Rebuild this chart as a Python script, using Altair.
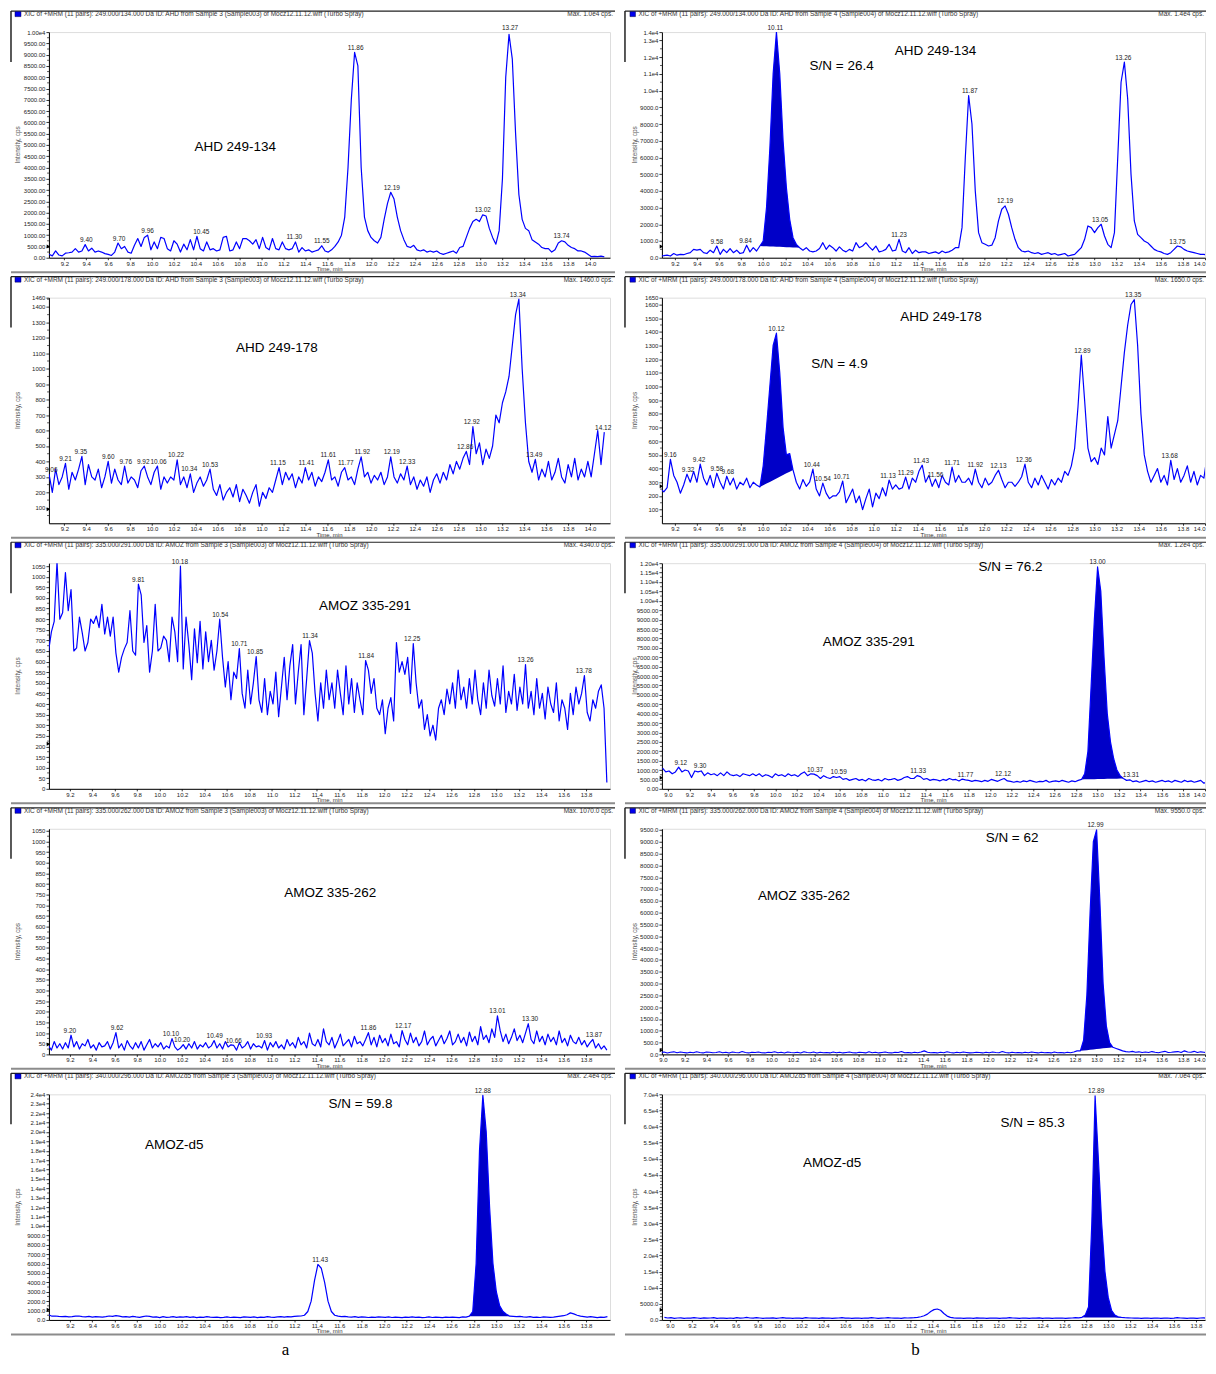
import altair as alt
import pandas as pd

FONT = "Liberation Sans"
SERIF = "Liberation Serif"
BLUE = "#0000ff"
FILL = "#0000c8"
H = 226
LW, RW = 562, 544

# ---------------- data ----------------
# Panel 1 left: AHD 249-134, sample 3
p1l_t0, p1l_dt = 9.06, 0.03
p1l_v = [150, 80, 300, 120, 80, 200, 220, 250, 400, 250,
         300, 580, 300, 420, 250, 300, 250, 180, 150, 100,
         250, 650, 400, 500, 250, 200, 550, 850, 500, 900,
         1000, 350, 700, 400, 900, 850, 400, 300, 750, 600,
         250, 600, 350, 800, 350, 950, 400, 300, 700, 350,
         400, 300, 350, 900, 950, 300, 350, 700, 400, 850,
         850, 750, 600, 800, 400, 900, 450, 350, 850, 400,
         350, 700, 400, 350, 400, 700, 250, 450, 300, 350,
         250, 300, 350, 530, 300, 250, 350, 500, 700, 1000,
         1800, 4000, 7000, 9100, 8500, 4000, 1800, 1200, 900, 750,
         650, 900, 1700, 2400, 2900, 2600, 1800, 1200, 800, 500,
         450, 550, 350, 300, 350, 250, 300, 250, 300, 200,
         150, 200, 250, 300, 200, 450, 500, 900, 1300, 1600,
         1700, 1600, 1900, 1850, 1300, 900, 600, 1200, 3500, 8000,
         9900, 8800, 5500, 2800, 1700, 1300, 1200, 800, 700, 600,
         450, 400, 400, 250, 350, 650, 750, 700, 550, 450,
         400, 300, 300, 250, 150, 50, 60, 50, 70, 40]
p1l_pk_t = [9.40, 9.70, 9.96, 10.45, 11.30, 11.55, 11.86, 12.19, 13.02, 13.27, 13.74]
p1l_pk_v = [580, 650, 1000, 950, 700, 530, 9100, 2900, 1900, 10000, 750]

# Panel 1 right: AHD 249-134, sample 4
p1r_t0, p1r_dt = 9.07, 0.03
p1r_v = [100, 120, 150, 100, 250, 150, 200, 180, 250, 300,
         500, 450, 500, 300, 250, 450, 300, 700, 200, 500,
         300, 550, 300, 450, 250, 300, 750, 350, 600, 400,
         700, 1000, 3000, 6500, 11000, 13500, 11000, 7000, 4200, 2300,
         1200, 800, 600, 450, 600, 400, 350, 400, 550, 900,
         500, 750, 600, 400, 650, 450, 350, 500, 400, 900,
         600, 700, 900, 650, 450, 700, 350, 400, 500, 800,
         400, 450, 1100, 400, 300, 600, 250, 450, 300, 350,
         350, 250, 300, 350, 250, 400, 300, 350, 450, 600,
         600, 1800, 6000, 9700, 8000, 4000, 1500, 900, 800, 700,
         750, 1200, 2200, 2900, 3100, 2600, 1800, 1100, 600, 400,
         350, 400, 300, 250, 300, 200, 250, 300, 200, 250,
         150, 200, 250, 100, 150, 200, 400, 600, 1100, 1900,
         1800, 1500, 1800, 2000, 1300, 800, 600, 1500, 6000, 10500,
         11700, 9500, 5000, 2200, 1400, 1200, 1000, 900, 700, 500,
         400, 350, 250, 200, 300, 500, 700, 650, 500, 400,
         350, 300, 250, 200, 200, 150, 60, 50]
p1r_fill = [30, 42]
p1r_pk_t = [9.58, 9.84, 10.11, 11.23, 11.87, 12.19, 13.05, 13.26, 13.75]
p1r_pk_v = [700, 750, 13500, 1100, 9700, 3100, 2000, 11700, 700]

# Panel 2 left: AHD 249-178, sample 3
p2l_t0, p2l_dt = 9.06, 0.03
p2l_v = [318, 200, 350, 250, 300, 388, 220, 330, 280, 350,
         433, 250, 380, 300, 280, 350, 230, 300, 400, 260,
         350, 280, 250, 370, 260, 300, 280, 230, 340, 370,
         300, 250, 330, 370, 220, 300, 260, 300, 280, 410,
         250, 300, 230, 320, 200, 260, 300, 240, 280, 350,
         220, 180, 250, 150, 200, 230, 170, 250, 140, 220,
         180, 130, 200, 250, 110, 200, 160, 230, 200, 280,
         360, 250, 330, 280, 320, 230, 300, 260, 360, 280,
         330, 240, 300, 270, 330, 410, 280, 300, 240, 330,
         360, 280, 300, 250, 350, 430, 300, 330, 260, 310,
         280, 330, 250, 300, 430, 300, 260, 320, 280, 370,
         250, 300, 220, 280, 240, 300, 200, 280, 320, 260,
         330, 280, 380, 320, 400, 350, 420, 465, 380, 625,
         450, 520, 380, 480, 420, 500, 700, 650, 780, 850,
         950, 1150, 1350, 1450, 1000, 650, 400, 330, 414, 280,
         350, 300, 400, 280, 330, 420, 300, 260, 380, 300,
         420, 280, 350, 300, 400, 300, 450, 600, 380, 590]
p2l_pk_t = [9.08, 9.21, 9.35, 9.60, 9.76, 9.92, 10.06, 10.22, 10.34, 10.53, 11.15,
            11.41, 11.61, 11.77, 11.92, 12.19, 12.33, 12.86, 12.92, 13.34, 13.49, 14.12]
p2l_pk_v = [318, 388, 433, 400, 370, 370, 370, 410, 320, 350, 360,
            360, 410, 360, 430, 430, 370, 465, 625, 1450, 414, 590]
p2l_pk_s = ["9.06", "9.21", "9.35", "9.60", "9.76", "9.92", "10.06", "10.22", "10.34", "10.53", "11.15",
            "11.41", "11.61", "11.77", "11.92", "12.19", "12.33", "12.86", "12.92", "13.34", "13.49", "14.12"]

# Panel 2 right: AHD 249-178, sample 4
p2r_t0, p2r_dt = 9.07, 0.03
p2r_v = [250, 230, 260, 467, 350, 300, 220, 280, 359, 300,
         380, 300, 432, 330, 280, 350, 260, 366, 300, 250,
         344, 280, 330, 250, 300, 280, 330, 260, 300, 280,
         265, 420, 700, 1000, 1300, 1390, 1100, 700, 500, 510,
         390, 300, 250, 320, 270, 300, 396, 250, 200, 294,
         220, 180, 200, 200, 230, 309, 150, 200, 250, 150,
         200, 100, 180, 250, 120, 220, 180, 260, 200, 316,
         250, 280, 250, 260, 338, 250, 330, 300, 380, 425,
         300, 350, 270, 323, 260, 350, 300, 280, 410, 300,
         350, 300, 300, 330, 280, 396, 300, 260, 330, 280,
         300, 350, 388, 320, 260, 300, 300, 270, 300, 340,
         432, 300, 260, 330, 280, 350, 300, 250, 320, 280,
         330, 300, 380, 350, 420, 550, 850, 1229, 900, 550,
         450, 480, 430, 550, 500, 780, 550, 650, 750, 1000,
         1250, 1450, 1600, 1635, 1300, 800, 500, 380, 300, 350,
         400, 300, 350, 280, 461, 320, 400, 300, 350, 420,
         300, 380, 280, 350, 330, 497, 330, 450]
p2r_fill = [30, 40]
p2r_pk_t = [9.16, 9.32, 9.42, 9.58, 9.68, 10.12, 10.44, 10.54, 10.71, 11.13, 11.29,
            11.43, 11.56, 11.71, 11.92, 12.13, 12.36, 12.89, 13.35, 13.68]
p2r_pk_v = [467, 359, 432, 366, 344, 1390, 396, 294, 309, 316, 338,
            425, 323, 410, 396, 388, 432, 1229, 1635, 461]

# Panel 3 left: AMOZ 335-291, sample 3
p3l_t0, p3l_dt = 9.01, 0.025
p3l_v = [650, 740, 790, 1070, 800, 830, 1020, 840, 940, 650,
         665, 810, 735, 650, 690, 800, 780, 815, 760, 870,
         730, 810, 720, 810, 640, 550, 620, 660, 690, 840,
         650, 630, 965, 915, 690, 770, 550, 650, 870, 650,
         665, 720, 700, 600, 810, 740, 600, 1050, 565, 810,
         680, 515, 755, 595, 790, 565, 740, 600, 700, 560,
         650, 800, 620, 480, 600, 420, 550, 520, 661, 450,
         380, 560, 400, 500, 624, 420, 360, 520, 350, 460,
         400, 550, 340, 480, 620, 420, 580, 680, 400, 550,
         680, 350, 520, 699, 640, 450, 320, 500, 380, 560,
         420, 500, 380, 560, 450, 350, 580, 400, 520, 360,
         500, 420, 350, 605, 560, 450, 520, 380, 350, 420,
         260, 380, 430, 320, 690, 550, 600, 540, 620, 450,
         685, 500, 380, 420, 280, 350, 250, 300, 230, 380,
         420, 350, 470, 400, 500, 380, 560, 420, 480, 380,
         520, 400, 560, 420, 350, 500, 380, 560, 440, 390,
         520, 400, 580, 360, 460, 400, 540, 370, 480, 400,
         586, 380, 460, 350, 520, 380, 450, 330, 480, 400,
         360, 500, 320, 420, 380, 280, 450, 350, 480, 400,
         450, 534, 360, 320, 420, 380, 460, 490, 380, 30]
p3l_pk_t = [9.81, 10.18, 10.54, 10.71, 10.85, 11.34, 11.84, 12.25, 13.26, 13.78]
p3l_pk_v = [965, 1050, 800, 661, 624, 699, 605, 685, 586, 534]

# Panel 3 right: AMOZ 335-291, sample 4
p3r_t0, p3r_dt = 8.95, 0.03
p3r_v = [1100, 900, 950, 800, 900, 1150, 900, 1000, 950, 600,
         950, 900, 950, 700, 850, 750, 800, 700, 850, 700,
         900, 750, 700, 750, 650, 800, 750, 700, 800, 700,
         800, 650, 750, 700, 600, 800, 700, 750, 650, 800,
         700, 750, 650, 800, 900, 700, 800, 780, 700, 550,
         700, 600, 550, 650, 600, 650, 500, 550, 450, 500,
         550, 450, 500, 420, 550, 480, 450, 500, 420, 550,
         480, 500, 550, 450, 500, 600, 650, 550, 550, 700,
         650, 500, 550, 450, 500, 480, 420, 500, 450, 550,
         480, 500, 420, 520, 480, 450, 400, 450, 420, 380,
         450, 400, 500, 450, 400, 480, 550, 420, 400, 350,
         400, 350, 420, 380, 450, 400, 350, 400, 380, 450,
         350, 400, 420, 380, 450, 400, 350, 420, 380, 450,
         500, 800, 2000, 5500, 9000, 11800, 10500, 7000, 4000, 2500,
         1600, 1000, 700, 550, 450, 480, 380, 420, 350, 400,
         450, 380, 420, 350, 400, 450, 380, 420, 350, 450,
         400, 350, 450, 380, 420, 350, 400, 450, 300, 380, 400]
p3r_fill = [130, 143]
p3r_pk_t = [9.12, 9.30, 10.37, 10.59, 11.33, 11.77, 12.12, 13.00, 13.31]
p3r_pk_v = [1150, 950, 780, 650, 700, 480, 550, 11800, 480]

# Panel 4 left: AMOZ 335-262, sample 3
p4l_t0, p4l_dt = 9.01, 0.025
p4l_v = [40, 20, 60, 30, 50, 25, 55, 30, 90, 35,
         60, 25, 50, 40, 70, 30, 45, 20, 55, 35,
         40, 60, 25, 55, 102, 30, 50, 20, 65, 40,
         25, 55, 30, 60, 20, 45, 70, 30, 50, 35,
         55, 25, 40, 30, 74, 35, 20, 30, 46, 25,
         50, 30, 60, 25, 45, 35, 55, 30, 40, 65,
         30, 50, 25, 60, 35, 45, 42, 20, 55, 30,
         40, 60, 25, 50, 35, 40, 30, 65, 20, 55,
         35, 60, 30, 45, 25, 70, 40, 55, 30, 80,
         45, 60, 30, 100, 50, 40, 70, 35, 120, 60,
         45, 80, 30, 60, 95, 40, 55, 70, 35, 85,
         50, 60, 40, 70, 102, 45, 80, 35, 90, 55,
         75, 40, 95, 50, 60, 35, 112, 70, 45, 100,
         55, 80, 40, 60, 110, 45, 70, 85, 40, 65,
         90, 50, 75, 110, 45, 60, 95, 55, 80, 40,
         105, 60, 85, 45, 130, 70, 90, 55, 120, 80,
         181, 110, 60, 95, 50, 80, 120, 65, 90, 55,
         100, 144, 70, 50, 110, 60, 85, 45, 95, 60,
         80, 45, 110, 55, 75, 40, 90, 60, 50, 80,
         45, 65, 35, 55, 70, 30, 50, 25, 40, 20]
p4l_pk_t = [9.20, 9.62, 10.10, 10.20, 10.49, 10.66, 10.93, 11.86, 12.17, 13.01, 13.30, 13.87]
p4l_pk_v = [90, 102, 74, 46, 65, 42, 65, 102, 112, 181, 144, 70]

# Panel 4 right: AMOZ 335-262, sample 4
p4r_t0, p4r_dt = 8.95, 0.03
p4r_v = [120, 80, 100, 60, 90, 110, 70, 100, 80, 60,
         90, 70, 110, 80, 60, 100, 90, 70, 80, 110,
         70, 90, 60, 100, 80, 70, 120, 80, 60, 90,
         80, 100, 70, 60, 90, 80, 110, 70, 90, 60,
         100, 80, 70, 90, 60, 110, 80, 70, 100, 60,
         90, 70, 80, 60, 100, 70, 90, 60, 80, 100,
         70, 60, 90, 80, 60, 110, 70, 90, 60, 80,
         100, 70, 60, 90, 80, 120, 70, 80, 60, 90,
         70, 100, 150, 90, 70, 80, 60, 90, 70, 110,
         80, 60, 90, 70, 100, 80, 60, 70, 90, 80,
         60, 90, 70, 100, 80, 70, 120, 80, 60, 90,
         70, 80, 60, 90, 70, 100, 80, 60, 90, 70,
         80, 60, 100, 70, 80, 60, 90, 70, 100, 150,
         150, 600, 2500, 6000, 9000, 9500, 6500, 3000, 1200, 500,
         300, 250, 200, 150, 120, 100, 130, 90, 110, 80,
         100, 80, 120, 90, 70, 100, 130, 80, 90, 110,
         120, 80, 150, 100, 90, 130, 80, 110, 90, 70, 100]
p4r_fill = [130, 140]
p4r_pk_t = [12.99]
p4r_pk_v = [9500]

# Panel 5 left: AMOZ-d5, sample 3
p5l_t0, p5l_dt = 9.01, 0.03
p5l_v = [550, 400, 420, 380, 350, 380, 320, 350, 400, 420,
         350, 320, 380, 300, 350, 330, 300, 350, 420, 380,
         450, 400, 320, 350, 300, 380, 320, 280, 350, 420,
         380, 300, 320, 250, 350, 280, 300, 350, 280, 320,
         300, 350, 280, 320, 250, 300, 280, 350, 300, 270,
         300, 250, 280, 320, 260, 300, 280, 250, 320, 300,
         280, 320, 250, 300, 270, 350, 300, 280, 320, 350,
         300, 350, 320, 380, 400, 420, 500, 900, 2000, 4200,
         5900, 5500, 4000, 2000, 900, 500, 400, 350, 380, 320,
         300, 350, 280, 320, 300, 260, 300, 280, 320, 300,
         280, 320, 260, 300, 280, 250, 300, 270, 320, 280,
         300, 250, 280, 320, 260, 300, 280, 250, 300, 270,
         300, 280, 250, 320, 300, 400, 900, 6000, 18000, 23900,
         20000, 12000, 6000, 3000, 1500, 900, 600, 400, 380, 350,
         380, 320, 300, 350, 280, 300, 260, 320, 300, 280,
         300, 350, 400, 450, 550, 750, 650, 500, 400, 350,
         300, 350, 300, 250, 300, 280, 350]
p5l_fill = [125, 137]
p5l_pk_t = [11.43, 12.88]
p5l_pk_v = [5900, 23900]

# Panel 5 right: AMOZ-d5, sample 4
p5r_t0, p5r_dt = 8.95, 0.03
p5r_v = [800, 600, 700, 500, 600, 650, 500, 600, 550, 700,
         600, 500, 650, 550, 600, 700, 500, 600, 550, 500,
         600, 500, 700, 550, 600, 800, 600, 550, 700, 600,
         500, 600, 550, 650, 500, 600, 700, 550, 600, 500,
         600, 550, 500, 700, 600, 550, 600, 500, 650, 550,
         600, 500, 550, 600, 700, 550, 600, 500, 550, 600,
         500, 600, 550, 700, 600, 500, 550, 600, 700, 600,
         550, 600, 500, 650, 600, 650, 700, 800, 1000, 1300,
         1800, 2600, 3200, 3400, 3000, 2000, 1200, 800, 650, 550,
         600, 500, 550, 600, 500, 650, 550, 600, 500, 550,
         600, 550, 500, 600, 550, 700, 600, 550, 500, 600,
         550, 500, 600, 550, 650, 500, 600, 550, 500, 600,
         550, 600, 500, 550, 600, 700, 650, 800, 1500, 4000,
         30000, 69500, 50000, 30000, 15000, 7000, 3000, 1500, 1000, 800,
         700, 650, 600, 550, 600, 500, 550, 600, 500, 550,
         600, 500, 550, 600, 500, 550, 700, 600, 550, 500,
         600, 550, 500, 600, 650, 550, 500, 600, 550, 500, 600]
p5r_fill = [127, 140]
p5r_pk_t = [12.89]
p5r_pk_v = [69500]

HDR = "XIC of +MRM (11 pairs): {} Da ID: {} from Sample {} (Sample00{}) of Mocz12.11.12.wiff (Turbo Spray)"


def e4(dec):
    return ("datum.value >= 10000 ? format(datum.value / 10000, '.%df') + 'e4' : "
            "format(datum.value, '.%df')" % (dec, dec))


INT = "format(datum.value, 'd')"
X92 = [round(9.2 + 0.2 * k, 1) for k in range(25)]
X92b = X92[:-1]
X90 = [round(9.0 + 0.2 * k, 1) for k in range(26)]
X90b = X90[:-1]

panels_cfg = [
    dict(side="L", t0=p1l_t0, dt=p1l_dt, v=p1l_v, fill=None, pkt=p1l_pk_t, pkv=p1l_pk_v,
         xdom=[9.059, 14.182], ymax=10000, xt=X92,
         yt=list(range(0, 10001, 500)), ymin=list(range(250, 10000, 500)), ylab=e4(2),
         hdr=HDR.format("249.000/134.000", "AHD", 3, 3), mx="Max. 1.0e4 cps.", mark=500,
         notes=[("AHD 249-134", 10.76, 4910)]),
    dict(side="R", t0=p1r_t0, dt=p1r_dt, v=p1r_v, fill=p1r_fill, pkt=p1r_pk_t, pkv=p1r_pk_v,
         xdom=[9.083, 14.0], ymax=13500, xt=X92,
         yt=list(range(0, 13001, 1000)) + [13500], ymin=list(range(500, 13500, 1000)), ylab=e4(1),
         hdr=HDR.format("249.000/134.000", "AHD", 4, 4), mx="Max. 1.4e4 cps.", mark=670,
         notes=[("AHD 249-134", 11.56, 12360), ("S/N = 26.4", 10.71, 11470)]),
    dict(side="L", t0=p2l_t0, dt=p2l_dt, v=p2l_v, fill=None, pkt=p2l_pk_t, pkv=p2l_pk_v,
         pks=p2l_pk_s,
         xdom=[9.059, 14.182], ymax=1460, xt=X92,
         yt=list(range(100, 1401, 100)) + [1460], ymin=list(range(50, 1460, 100)), ylab=INT,
         hdr=HDR.format("249.000/178.000", "AHD", 3, 3), mx="Max. 1460.0 cps.", mark=90,
         notes=[("AHD 249-178", 11.14, 1137)]),
    dict(side="R", t0=p2r_t0, dt=p2r_dt, v=p2r_v, fill=p2r_fill, pkt=p2r_pk_t, pkv=p2r_pk_v,
         xdom=[9.083, 14.0], ymax=1650, xt=X92,
         yt=list(range(100, 1601, 100)) + [1650], ymin=list(range(50, 1650, 100)), ylab=INT,
         hdr=HDR.format("249.000/178.000", "AHD", 4, 4), mx="Max. 1650.0 cps.", mark=270,
         notes=[("AHD 249-178", 11.61, 1511), ("S/N = 4.9", 10.69, 1168)]),
    dict(side="L", t0=p3l_t0, dt=p3l_dt, v=p3l_v, fill=None, pkt=p3l_pk_t, pkv=p3l_pk_v,
         xdom=[9.013, 14.013], ymax=1064, xt=X92b,
         yt=list(range(0, 1051, 50)), ymin=list(range(25, 1064, 50)), ylab=INT,
         hdr=HDR.format("335.000/291.000", "AMOZ", 3, 3), mx="Max. 4340.0 cps.", mark=213,
         notes=[("AMOZ 335-291", 11.83, 862)]),
    dict(side="R", t0=p3r_t0, dt=p3r_dt, v=p3r_v, fill=p3r_fill, pkt=p3r_pk_t, pkv=p3r_pk_v,
         xdom=[8.944, 14.0], ymax=12000, xt=X90,
         yt=list(range(0, 12001, 500)), ymin=list(range(250, 12000, 500)), ylab=e4(2),
         hdr=HDR.format("335.000/291.000", "AMOZ", 4, 4), mx="Max. 1.2e4 cps.", mark=584,
         notes=[("S/N = 76.2", 12.19, 11790), ("AMOZ 335-291", 10.87, 7805)]),
    dict(side="L", t0=p4l_t0, dt=p4l_dt, v=p4l_v, fill=None, pkt=p4l_pk_t, pkv=p4l_pk_v,
         xdom=[9.013, 14.013], ymax=1060, xt=X92b,
         yt=list(range(0, 1051, 50)), ymin=list(range(25, 1060, 50)), ylab=INT,
         hdr=HDR.format("335.000/262.000", "AMOZ", 3, 3), mx="Max. 1070.0 cps.", mark=47,
         notes=[("AMOZ 335-262", 11.52, 760)]),
    dict(side="R", t0=p4r_t0, dt=p4r_dt, v=p4r_v, fill=p4r_fill, pkt=p4r_pk_t, pkv=p4r_pk_v,
         xdom=[8.99, 14.0], ymax=9550, xt=X90,
         yt=list(range(0, 9501, 500)), ymin=list(range(250, 9550, 500)), ylab=e4(1),
         hdr=HDR.format("335.000/262.000", "AMOZ", 4, 4), mx="Max. 9550.0 cps.", mark=170,
         notes=[("S/N = 62", 12.22, 9170), ("AMOZ 335-262", 10.30, 6720)]),
    dict(side="L", t0=p5l_t0, dt=p5l_dt, v=p5l_v, fill=p5l_fill, pkt=p5l_pk_t, pkv=p5l_pk_v,
         xdom=[9.013, 14.013], ymax=24000, xt=X92b,
         yt=list(range(0, 24001, 1000)), ymin=list(range(500, 24000, 1000)), ylab=e4(1),
         hdr=HDR.format("340.000/296.000", "AMOZd5", 3, 3), mx="Max. 2.4e4 cps.", mark=1094,
         notes=[("S/N = 59.8", 11.79, 22940), ("AMOZ-d5", 10.13, 18580)], cap="a"),
    dict(side="R", t0=p5r_t0, dt=p5r_dt, v=p5r_v, fill=p5r_fill, pkt=p5r_pk_t, pkv=p5r_pk_v,
         xdom=[8.927, 13.883], ymax=70000, xt=X90b,
         yt=list(range(0, 70001, 5000)), ymin=[m for m in range(1000, 70000, 1000) if m % 5000],
         ylab=e4(1),
         hdr=HDR.format("340.000/296.000", "AMOZd5", 4, 4), mx="Max. 7.0e4 cps.", mark=3190,
         notes=[("S/N = 85.3", 12.31, 61020), ("AMOZ-d5", 10.48, 48630)], cap="b"),
]

DUMMY = pd.DataFrame({"d": [0]})


def make_panel(c):
    left = c["side"] == "L"
    W = LW if left else RW
    ts = [round(c["t0"] + c["dt"] * i, 4) for i in range(len(c["v"]))]
    df = pd.DataFrame({"t": ts, "v": c["v"]})

    xaxis = alt.Axis(values=c["xt"], labelExpr="format(datum.value, '.1f')", title=None,
                     labelFontSize=6, labelFont=FONT, labelColor="#222", tickSize=2,
                     tickColor="black", tickWidth=0.8, domainColor="black", domainWidth=1,
                     labelPadding=0.5, grid=False, labelOverlap=False, labelFlush=False,
                     labelAlign={"condition": {"test": "datum.value >= 13.99 && %s" % ("false" if left else "true"),
                                               "value": "right"}, "value": "center"})
    yaxis = alt.Axis(values=c["yt"], labelExpr=c["ylab"], title=None,
                     labelFontSize=6, labelFont=FONT, labelColor="#222", tickSize=3,
                     tickColor="black", tickWidth=0.8, domainColor="black", domainWidth=1,
                     labelPadding=1, grid=False, labelOverlap=False, labelFlush=False)
    X = alt.X("t:Q", scale=alt.Scale(domain=c["xdom"], nice=False, zero=False), axis=xaxis)
    Y = alt.Y("v:Q", scale=alt.Scale(domain=[0, c["ymax"]], nice=False, zero=False), axis=yaxis)

    layers = []
    if c["fill"]:
        a, b = c["fill"]
        seg = df.iloc[a:b + 1].copy()
        v0, v1 = c["v"][a], c["v"][b]
        n = b - a
        seg["b"] = [v0 + (v1 - v0) * k / n for k in range(n + 1)]
        layers.append(alt.Chart(seg).mark_area(color=FILL, opacity=1, clip=True)
                      .encode(x=X, y=Y, y2="b:Q"))
    layers.append(alt.Chart(df).mark_line(color=BLUE, strokeWidth=1.2, clip=True, strokeJoin="round")
                  .encode(x=X, y=Y))

    # minor y ticks
    layers.append(alt.Chart(pd.DataFrame({"v": c["ymin"]})).mark_rule(color="black", strokeWidth=0.7)
                  .encode(y=Y, x=alt.value(-1.8), x2=alt.value(0)))
    # threshold marker
    layers.append(alt.Chart(pd.DataFrame({"v": [c["mark"]]}))
                  .mark_point(shape="triangle-right", filled=True, color="black", size=16, opacity=1)
                  .encode(y=Y, x=alt.value(-0.5)))

    labs = c.get("pks") or ["%.2f" % t for t in c["pkt"]]
    pk = pd.DataFrame({"t": c["pkt"], "v": c["pkv"], "lab": labs})
    layers.append(alt.Chart(pk).mark_text(fontSize=6.5, font=FONT, color="#222", baseline="bottom",
                                          dy=-1.5)
                  .encode(x=X, y=Y, text="lab:N"))

    nt = pd.DataFrame({"lab": [n[0] for n in c["notes"]], "t": [n[1] for n in c["notes"]],
                       "v": [n[2] for n in c["notes"]]})
    layers.append(alt.Chart(nt).mark_text(fontSize=13.5, font=FONT, color="black",
                                          baseline="middle", align="center")
                  .encode(x=X, y=Y, text="lab:N"))

    # panel chrome
    fx0 = -38 if left else -37
    fx1 = 567 if left else RW + 1
    sq = (-34, -28) if left else (-32, -26.5)
    chrome = [
        alt.Chart(DUMMY).mark_rule(color="#222", strokeWidth=1.2)
        .encode(x=alt.value(fx0), x2=alt.value(fx1), y=alt.value(-21)),
        alt.Chart(DUMMY).mark_rule(color="#222", strokeWidth=1.5)
        .encode(x=alt.value(fx0), y=alt.value(-21), y2=alt.value(30)),
        alt.Chart(DUMMY).mark_rule(color="#8c8c8c", strokeWidth=2)
        .encode(x=alt.value(fx0), x2=alt.value(fx1), y=alt.value(240.5)),
        alt.Chart(DUMMY).mark_rect(color="#0000ee", stroke="#000044", strokeWidth=0.5)
        .encode(x=alt.value(sq[0]), x2=alt.value(sq[1]), y=alt.value(-20.5), y2=alt.value(-15.5)),
        alt.Chart(DUMMY).mark_text(align="left", baseline="middle", fontSize=6.5, font=FONT, color="#333")
        .encode(x=alt.value(sq[1] + 3), y=alt.value(-18), text=alt.value(c["hdr"])),
        alt.Chart(DUMMY).mark_text(align="right", baseline="middle", fontSize=6.5, font=FONT, color="#333")
        .encode(x=alt.value(fx1 - 2), y=alt.value(-18), text=alt.value(c["mx"])),
        alt.Chart(DUMMY).mark_text(angle=270, align="center", baseline="middle", fontSize=6.5,
                                   font=FONT, color="#555")
        .encode(x=alt.value(-31 if left else -27), y=alt.value(H / 2), text=alt.value("Intensity, cps")),
        alt.Chart(DUMMY).mark_text(align="center", baseline="middle", fontSize=6, font=FONT, color="#333")
        .encode(x=alt.value(W / 2), y=alt.value(H + 11.5), text=alt.value("Time, min")),
    ]
    if c.get("cap"):
        chrome.append(alt.Chart(DUMMY).mark_text(align="center", baseline="middle", fontSize=17,
                                                 font=SERIF, color="black")
                      .encode(x=alt.value(237 if left else 254), y=alt.value(256),
                              text=alt.value(c["cap"])))
    return alt.layer(*layers, *chrome).properties(width=W, height=H)


panels = [make_panel(c) for c in panels_cfg]

chart = alt.concat(*panels, columns=2, spacing={"row": 40, "column": 52}, bounds="flush",
                   align="each").properties(
    padding={"left": 1, "top": 0, "right": 0, "bottom": 0}
).configure_view(strokeWidth=0).configure(font=FONT)

chart.save("out.html", embed_options={"renderer": "svg", "actions": False})
